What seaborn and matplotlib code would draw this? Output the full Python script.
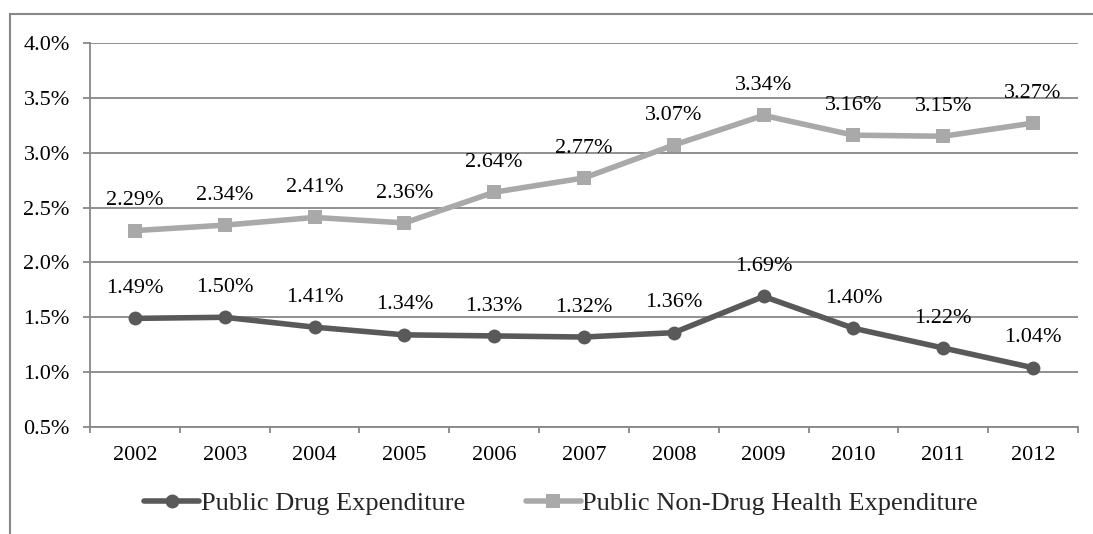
import matplotlib
matplotlib.use("Agg")
import matplotlib.pyplot as plt
import matplotlib.patches as mpatches
from matplotlib.ticker import FixedLocator, FuncFormatter
import seaborn as sns
import pandas as pd
import numpy as np

years = ["2002", "2003", "2004", "2005", "2006", "2007", "2008", "2009", "2010", "2011", "2012"]
drug = [1.49, 1.50, 1.41, 1.34, 1.33, 1.32, 1.36, 1.69, 1.40, 1.22, 1.04]
non_drug = [2.29, 2.34, 2.41, 2.36, 2.64, 2.77, 3.07, 3.34, 3.16, 3.15, 3.27]
yticks = [0.5, 1.0, 1.5, 2.0, 2.5, 3.0, 3.5, 4.0]

sns.set_theme(style="white")
plt.rcParams["font.family"] = ["Liberation Serif", "DejaVu Serif"]

DARK = "#595959"
LIGHT = "#A9A9A9"
GRID = "#878787"

fig = plt.figure(figsize=(10.93, 5.34), dpi=100)
ax = fig.add_axes([90 / 1093, 1 - 427 / 534, (1078 - 90) / 1093, (427 - 43) / 534])

df = pd.DataFrame({"year": years, "drug": drug, "non_drug": non_drug})

sns.lineplot(data=df, x="year", y="drug", ax=ax, color=DARK, lw=4, marker="o",
             markersize=10, markeredgewidth=0, label="Public Drug Expenditure", sort=False)
sns.lineplot(data=df, x="year", y="non_drug", ax=ax, color=LIGHT, lw=4, marker="s",
             markersize=10, markeredgewidth=0, label="Public Non-Drug Health Expenditure", sort=False)

for i, v in enumerate(drug):
    ax.annotate(f"{v:.2f}%", (i, v), xytext=(0, 21.5), textcoords="offset points",
                ha="center", va="center", fontsize=16, color="black")
for i, v in enumerate(non_drug):
    ax.annotate(f"{v:.2f}%", (i, v), xytext=(0, 21.5), textcoords="offset points",
                ha="center", va="center", fontsize=16, color="black")

ax.set_xlim(-0.5, len(years) - 0.5)
ax.set_ylim(0.5, 4.0)
ax.set_yticks(yticks)
ax.yaxis.set_major_formatter(FuncFormatter(lambda v, p: f"{v:.1f}%"))
ax.set_xticks(range(len(years)))
ax.set_xticklabels(years)
ax.xaxis.set_minor_locator(FixedLocator(np.arange(-0.5, len(years), 1.0)))

ax.grid(axis="y", color=GRID, lw=1.3)
ax.set_axisbelow(True)
for s in ["top", "right"]:
    ax.spines[s].set_visible(False)
for s in ["left", "bottom"]:
    ax.spines[s].set_color(GRID)
    ax.spines[s].set_linewidth(1.3)

ax.tick_params(axis="y", which="major", length=5, width=1.3, color=GRID, pad=9.5,
               labelsize=16, labelcolor="black", left=True)
ax.tick_params(axis="x", which="major", length=0, pad=14, labelsize=16, labelcolor="black")
ax.tick_params(axis="x", which="minor", length=4, width=1.3, color=GRID, bottom=True)
ax.set_xlabel("")
ax.set_ylabel("")

leg = ax.legend(loc="center", bbox_to_anchor=(561 / 1093, 1 - 503 / 534), bbox_transform=fig.transFigure,
                ncol=2, frameon=False, fontsize=19, handlelength=2.1, handletextpad=0.05,
                columnspacing=2.3, borderpad=0, borderaxespad=0)

border = mpatches.Rectangle((10 / 1093, -0.1), 1.2, (534 - 14) / 534 + 0.1,
                            transform=fig.transFigure, fill=False, edgecolor="#888888", lw=1.5,
                            clip_on=False)
fig.patches.append(border)

fig.savefig("out.png", dpi=100)
